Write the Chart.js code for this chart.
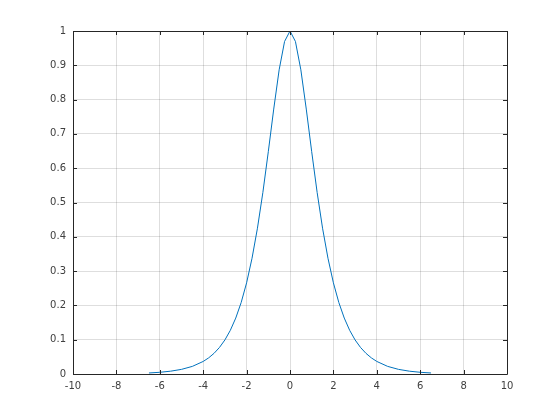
<!DOCTYPE html>
<html>
<head>
<meta charset="utf-8">
<script src="https://cdn.jsdelivr.net/npm/chart.js@4/dist/chart.umd.min.js"></script>
<style>
  html, body { margin: 0; padding: 0; background: #fff; }
  #myChart { display: block; }
</style>
</head>
<body>
<canvas id="myChart" width="560" height="420"></canvas>
<script>
const xValues = [-6.5, -6, -5.5, -5, -4.5, -4, -3.75, -3.5, -3.25, -3, -2.75, -2.5, -2.25, -2,
    -1.75, -1.5, -1.25, -1, -0.75, -0.5, -0.25, 0, 0.25, 0.5, 0.75, 1, 1.25, 1.5, 1.75, 2,
    2.25, 2.5, 2.75, 3, 3.25, 3.5, 3.75, 4, 4.5, 5, 5.5, 6, 6.5];
const yValues = [0.003, 0.005, 0.0082, 0.0135, 0.0222, 0.0366, 0.047, 0.0603, 0.0774, 0.0993, 0.1273, 0.1631, 0.2085, 0.2658,
    0.3374, 0.4251, 0.5295, 0.6481, 0.7724, 0.8868, 0.9695, 1, 0.9695, 0.8868, 0.7724, 0.6481, 0.5295, 0.4251, 0.3374, 0.2658,
    0.2085, 0.1631, 0.1273, 0.0993, 0.0774, 0.0603, 0.047, 0.0366, 0.0222, 0.0135, 0.0082, 0.005, 0.003];
const xTicks = [-10, -8, -6, -4, -2, 0, 2, 4, 6, 8, 10];
const yTicks = [0, 0.1, 0.2, 0.3, 0.4, 0.5, 0.6, 0.7, 0.8, 0.9, 1];

let points = [];
for (let i = 0; i < xValues.length; i++) {
    points.push({ x: xValues[i], y: yValues[i] });
}

const axisColor = "#262626";
const labelColor = "#404040";

// box around the plot and ticks pointing inwards
const boxPlugin = {
    id: "box",
    afterDraw(chart) {
        const c = chart.ctx;
        const a = chart.chartArea;
        const xs = chart.scales.x;
        const ys = chart.scales.y;
        c.save();
        c.strokeStyle = axisColor;
        c.lineWidth = 1;
        c.beginPath();
        c.rect(Math.round(a.left) + 0.5, Math.round(a.top) + 0.5,
            Math.round(a.right - a.left), Math.round(a.bottom - a.top));
        for (let v of xTicks) {
            let px = Math.round(xs.getPixelForValue(v)) + 0.5;
            c.moveTo(px, a.bottom); c.lineTo(px, a.bottom - 4);
            c.moveTo(px, a.top); c.lineTo(px, a.top + 4);
        }
        for (let v of yTicks) {
            let py = Math.round(ys.getPixelForValue(v)) + 0.5;
            c.moveTo(a.left, py); c.lineTo(a.left + 4, py);
            c.moveTo(a.right, py); c.lineTo(a.right - 4, py);
        }
        c.stroke();
        c.restore();
    }
};

const ctx = document.getElementById("myChart").getContext("2d");
const myChart = new Chart(ctx, {
    type: "line",
    data: {
        datasets: [{
            data: points,
            borderColor: "#0072BD",
            borderWidth: 1,
            pointRadius: 0,
            tension: 0,
            fill: false,
        }],
    },
    options: {
        responsive: false,
        animation: false,
        layout: { padding: { left: 0, right: 53, top: 31, bottom: 0 } },
        plugins: { legend: { display: false }, tooltip: { enabled: false } },
        scales: {
            x: {
                type: "linear",
                min: -10,
                max: 10,
                afterBuildTicks: (s) => { s.ticks = xTicks.map(v => ({ value: v })); },
                afterFit: (s) => { s.height = 46; },
                grid: { color: "rgba(0,0,0,0.13)", drawTicks: false },
                border: { display: false },
                ticks: {
                    color: labelColor, padding: 6, font: { family: "DejaVu Sans", size: 10 },
                    callback: (v) => String(v),
                },
            },
            y: {
                min: 0,
                max: 1,
                afterBuildTicks: (s) => { s.ticks = yTicks.map(v => ({ value: v })); },
                afterFit: (s) => { s.width = 73; },
                grid: { color: "rgba(0,0,0,0.13)", drawTicks: false },
                border: { display: false },
                ticks: {
                    color: labelColor, padding: 7, font: { family: "DejaVu Sans", size: 10 },
                    callback: (v) => String(Number(v.toFixed(1))),
                },
            },
        },
    },
    plugins: [boxPlugin],
});
</script>
</body>
</html>
